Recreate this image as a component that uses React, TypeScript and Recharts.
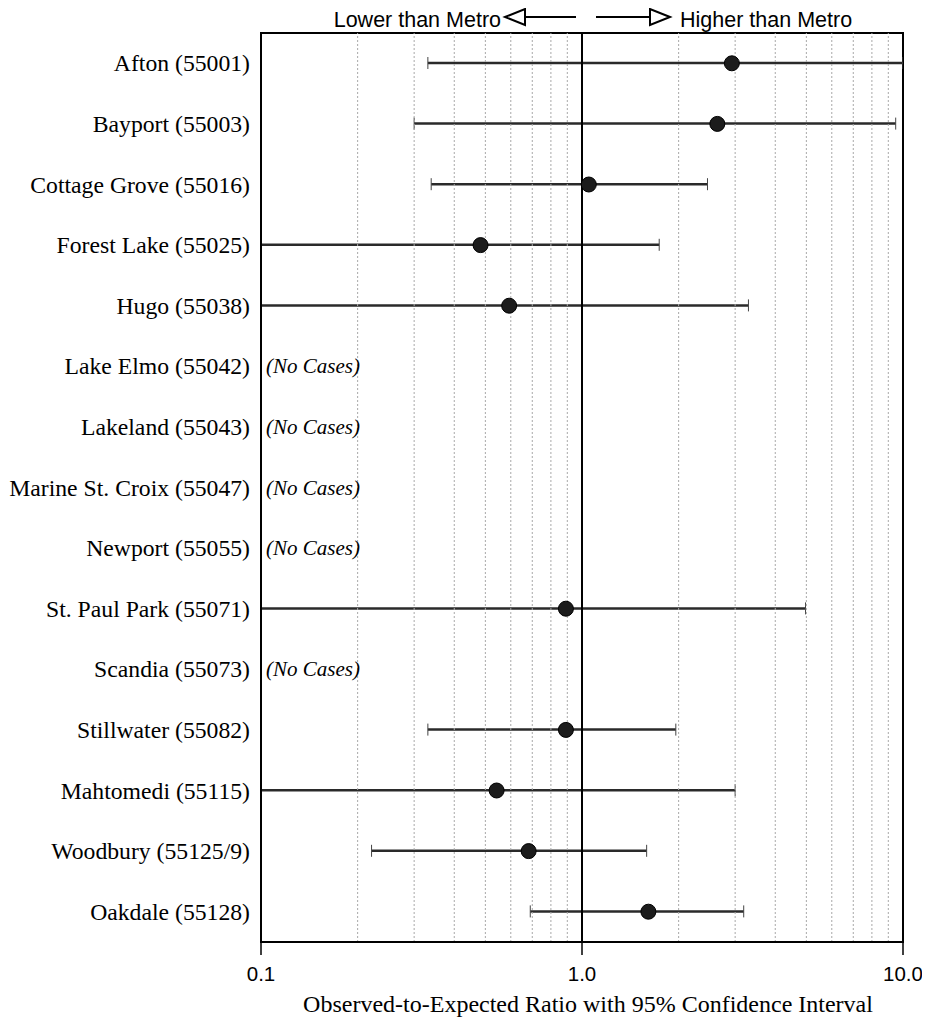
import React from 'react';
import { Bar, ComposedChart, ReferenceArea, ReferenceLine, Scatter, XAxis, YAxis } from 'recharts';

// ZIP areas, top to bottom
const places = [
  'Afton (55001)',
  'Bayport (55003)',
  'Cottage Grove (55016)',
  'Forest Lake (55025)',
  'Hugo (55038)',
  'Lake Elmo (55042)',
  'Lakeland (55043)',
  'Marine St. Croix (55047)',
  'Newport (55055)',
  'St. Paul Park (55071)',
  'Scandia (55073)',
  'Stillwater (55082)',
  'Mahtomedi (55115)',
  'Woodbury (55125/9)',
  'Oakdale (55128)',
];

// observed-to-expected ratio and 95% CI (null = no cases)
const ratios = [2.93, 2.64, 1.05, 0.483, 0.593, null, null, null, null, 0.891, null, 0.891, 0.542, 0.682, 1.61];
const lowerCI = [0.331, 0.3, 0.339, 0.1, 0.1, null, null, null, null, 0.1, null, 0.331, 0.1, 0.221, 0.69];
const upperCI = [10, 9.49, 2.46, 1.74, 3.3, null, null, null, null, 4.97, null, 1.96, 3.0, 1.59, 3.19];

const xTicks = [0.1, 1, 10];
const minorGrid = [0.2, 0.3, 0.4, 0.5, 0.6, 0.7, 0.8, 0.9, 2, 3, 4, 5, 6, 7, 8, 9];

const data = places.map((name, i) => ({
  name,
  ratio: ratios[i],
  ci: lowerCI[i] != null && upperCI[i] != null ? [lowerCI[i], upperCI[i]] : null,
  noCases: ratios[i] == null,
}));

const serif = '"Liberation Serif", "Times New Roman", serif';
const sans = '"Liberation Sans", Arial, sans-serif';

// horizontal CI line with small end caps
const CIShape = (props: any) => {
  const { x, y, width, height } = props;
  if (!isFinite(x) || !isFinite(width)) return <g />;
  const cy = y + height / 2;
  return (
    <g>
      <line x1={x} y1={cy} x2={x + width} y2={cy} stroke="#2a2a2a" strokeWidth={2.5} />
      <line x1={x} y1={cy - 6} x2={x} y2={cy + 6} stroke="#444" strokeWidth={1} />
      <line x1={x + width} y1={cy - 6} x2={x + width} y2={cy + 6} stroke="#444" strokeWidth={1} />
    </g>
  );
};

const PointShape = (props: any) => {
  const { cx, cy, payload } = props;
  if (payload?.ratio == null || !isFinite(cx)) return <g />;
  return <circle cx={cx} cy={cy} r={7.5} fill="#1c1c1c" stroke="#000" strokeWidth={1} />;
};

const PlaceTick = (props: any) => {
  const { x, y, payload, index } = props;
  const row = data[index];
  return (
    <g>
      <text x={x} y={y} dy={8} textAnchor="end" fontFamily={serif} fontSize={23.7} fill="#000">
        {payload.value}
      </text>
      {row && row.noCases && (
        <text x={x + 16} y={y} dy={7} fontFamily={serif} fontStyle="italic" fontSize={21} fill="#000">
          (No Cases)
        </text>
      )}
    </g>
  );
};

// "Lower than Metro <-   -> Higher than Metro" above the 1.0 line
const MetroNote = (props: any) => {
  const vb = props.viewBox || {};
  const cx = vb.x;
  const top = vb.y;
  const ay = top - 16;
  const ty = top - 6;
  return (
    <g>
      <text x={cx - 81} y={ty} textAnchor="end" fontFamily={sans} fontSize={21.5} fill="#000">
        Lower than Metro
      </text>
      <polygon points={`${cx - 77},${ay} ${cx - 57},${ay - 8} ${cx - 57},${ay + 8}`} fill="#fff" stroke="#000" strokeWidth={2} />
      <line x1={cx - 57} y1={ay} x2={cx - 6} y2={ay} stroke="#000" strokeWidth={2} />
      <line x1={cx + 14} y1={ay} x2={cx + 68} y2={ay} stroke="#000" strokeWidth={2} />
      <polygon points={`${cx + 88},${ay} ${cx + 68},${ay - 8} ${cx + 68},${ay + 8}`} fill="#fff" stroke="#000" strokeWidth={2} />
      <text x={cx + 98} y={ty} textAnchor="start" fontFamily={sans} fontSize={21.5} fill="#000">
        Higher than Metro
      </text>
    </g>
  );
};

export default function App() {
  return (
    <div style={{ width: 922, height: 1012, background: '#fff' }}>
      <ComposedChart
        width={922}
        height={1012}
        data={data}
        layout="vertical"
        margin={{ top: 25, right: 27, bottom: 8, left: 0 }}
      >
        <XAxis
          type="number"
          scale="log"
          domain={[0.1, 10]}
          allowDataOverflow
          ticks={xTicks}
          interval={0}
          tickFormatter={(v: number) => v.toFixed(1)}
          tick={{ fontFamily: sans, fontSize: 20.5, fill: '#000' }}
          tickLine={{ stroke: '#000', strokeWidth: 1.5 }}
          tickSize={13}
          tickMargin={11}
          axisLine={{ stroke: '#000', strokeWidth: 2 }}
          height={70}
          label={{
            value: 'Observed-to-Expected Ratio with 95% Confidence Interval',
            position: 'insideBottom',
            offset: 0,
            dx: 6,
            style: { fontFamily: serif, fontSize: 24, fill: '#000' },
          }}
        />
        <YAxis
          type="category"
          dataKey="name"
          width={253}
          interval={0}
          tickSize={0}
          tickMargin={11}
          tickLine={false}
          axisLine={{ stroke: '#000', strokeWidth: 2 }}
          tick={<PlaceTick />}
        />
        {minorGrid.map((v) => (
          <ReferenceLine key={v} x={v} stroke="#a8a8a8" strokeWidth={1} strokeDasharray="2 2" />
        ))}
        <ReferenceLine x={1} stroke="#000" strokeWidth={2} label={<MetroNote />} />
        <Bar dataKey="ci" barSize={12} shape={<CIShape />} isAnimationActive={false} />
        <Scatter dataKey="ratio" shape={<PointShape />} isAnimationActive={false} />
        <ReferenceArea x1={0.1} x2={10} fill="none" fillOpacity={0} stroke="#000" strokeWidth={2} />
      </ComposedChart>
    </div>
  );
}
